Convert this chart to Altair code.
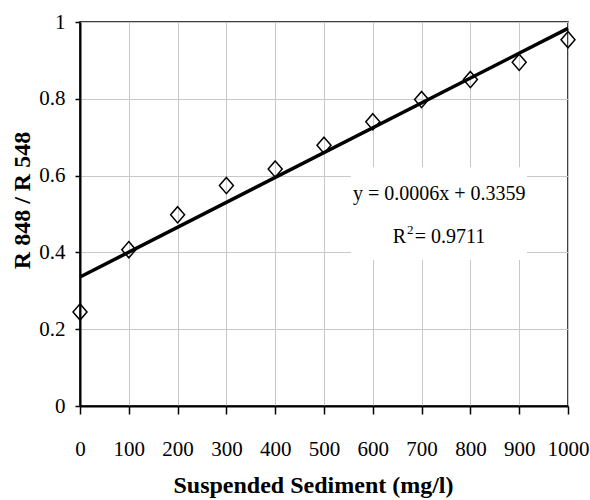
import altair as alt
import pandas as pd

# Reflectance ratio measured against suspended sediment concentration
sediment = [0, 100, 200, 300, 400, 500, 600, 700, 800, 900, 1000]
ratio = [0.245, 0.407, 0.498, 0.574, 0.617, 0.679, 0.740, 0.798, 0.850, 0.895, 0.954]

equation = "y = 0.0006x + 0.3359"
r2_parts = ["R", "2", "= 0.9711"]
x_ticks = [0, 100, 200, 300, 400, 500, 600, 700, 800, 900, 1000]
y_ticks = [0, 0.2, 0.4, 0.6, 0.8, 1.0]

FONT = "Liberation Serif"

df = pd.DataFrame({"sediment": sediment, "ratio": ratio})

x_scale = alt.Scale(domain=[0, 1000], nice=False, zero=False)
y_scale = alt.Scale(domain=[0, 1], nice=False)

x_axis = alt.Axis(
    values=x_ticks, format="d", grid=True, gridColor="#c8c8c8", gridWidth=1,
    domainColor="black", domainWidth=2, tickColor="black", tickSize=8, tickWidth=1.5,
    labelFont=FONT, labelFontSize=21, labelColor="black", labelPadding=41,
    labelBaseline="alphabetic", labelFlush=False, labelOverlap=False,
    title="Suspended Sediment (mg/l)", titleFont=FONT, titleFontSize=24,
    titleFontWeight="bold", titleColor="black", titleX=233, titleY=86,
    titleAlign="center", titleBaseline="alphabetic",
)
y_axis = alt.Axis(
    values=y_ticks, format=".1~f", grid=True, gridColor="#c8c8c8", gridWidth=1,
    domainColor="black", domainWidth=2, tickColor="black", tickSize=5, tickWidth=1.5,
    labelFont=FONT, labelFontSize=21, labelColor="black", labelPadding=10,
    labelFlush=False, labelOverlap=False,
    title="R 848 / R 548", titleFont=FONT, titleFontSize=24, titleFontWeight="bold",
    titleColor="black", titleAngle=270, titleX=-58, titleY=178,
    titleAlign="center", titleBaseline="middle",
)

# Data points as open diamonds
points = alt.Chart(df).mark_point(
    shape="M0,-1.1L0.95,0L0,1.1L-0.95,0Z", size=217, filled=False,
    stroke="black", strokeWidth=1.5, opacity=1,
).encode(
    x=alt.X("sediment:Q", scale=x_scale, axis=x_axis),
    y=alt.Y("ratio:Q", scale=y_scale, axis=y_axis),
)

# Least-squares trend line across the full range
trend = alt.Chart(df).transform_regression(
    "sediment", "ratio", extent=[0, 1000]
).mark_line(color="black", strokeWidth=3.5).encode(
    x=alt.X("sediment:Q", scale=x_scale),
    y=alt.Y("ratio:Q", scale=y_scale),
)

# White label box behind the regression equation
box = alt.Chart(pd.DataFrame({"item": ["equation"]})).mark_rect(fill="white").encode(
    x=alt.datum(555), x2=alt.datum(916), y=alt.datum(0.38), y2=alt.datum(0.622),
)


def label(text, x, y, size=20, align="center", dy=0):
    return alt.Chart(pd.DataFrame({"t": [text]})).mark_text(
        font=FONT, fontSize=size, color="black", align=align,
        baseline="alphabetic", dy=dy,
    ).encode(x=alt.datum(x), y=alt.datum(y), text="t:N")


eq_text = label(equation, 736, 0.536)
r_text = label(r2_parts[0], 668, 0.425, align="right")
sup_text = label(r2_parts[1], 670, 0.425, size=13, align="left", dy=-9)
val_text = label(r2_parts[2], 686, 0.425, align="left")

chart = alt.layer(
    box, trend, points, eq_text, r_text, sup_text, val_text
).properties(
    width=488, height=384,
    padding={"left": 80, "top": 22, "right": 22, "bottom": 94},
    autosize=alt.AutoSizeParams(type="none"),
    background="white",
).configure_view(stroke="black", strokeWidth=1.5)

chart.save("out.html", embed_options={"renderer": "svg", "actions": False})
